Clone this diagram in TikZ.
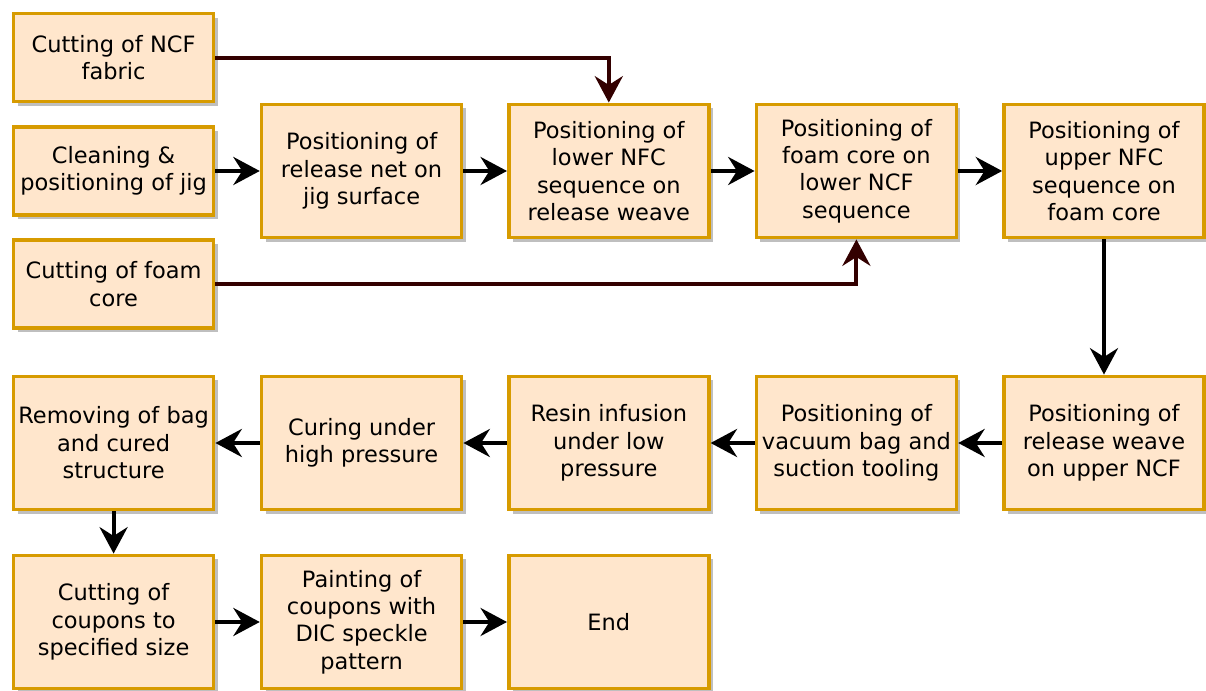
\documentclass[tikz,border=0pt]{standalone}
\usepackage{fontspec}
\setmainfont{DejaVu Sans}
\usetikzlibrary{arrows.meta,positioning,shadows}
\definecolor{stepfill}{HTML}{FFE6CC}
\definecolor{stepline}{HTML}{D79B00}
\definecolor{darkarr}{HTML}{330000}

\begin{document}
\begin{tikzpicture}[
  x=1cm,y=1cm,
  base/.style={draw=stepline, fill=stepfill, line width=2.6pt, align=center, minimum width=5cm, minimum height=3.33cm, inner sep=2pt, font=\fontsize{16}{19.5}\selectfont, drop shadow={shadow xshift=0.1cm, shadow yshift=-0.1cm, fill=black!25, opacity=1}},
  small/.style={base, minimum height=2.2cm},
  arr/.style={-{Stealth[length=0.66cm, width=0.7cm, inset=0.22cm]}, line width=2.9pt},
  arrd/.style={arr, color=darkarr}
]
\useasboundingbox (0,0) rectangle (30.15,-17.275);
\node[small] (cutncf) at (2.84,-1.44) {Cutting of NCF\\fabric};
\node[small] (clean) at (2.84,-4.275) {Cleaning \&\\positioning of jig};
\node[small] (cutfoam) at (2.84,-7.1) {Cutting of foam\\core};
\node[base] (relnet) at (9.04,-4.275) {Positioning of\\release net on\\jig surface};
\node[base] (lowseq) at (15.22,-4.275) {Positioning of\\lower NFC\\sequence on\\release weave};
\node[base] (foamcore) at (21.41,-4.275) {Positioning of\\foam core on\\lower NCF\\sequence};
\node[base] (upseq) at (27.6,-4.275) {Positioning of\\upper NFC\\sequence on\\foam core};
\node[base] (relweave) at (27.6,-11.075) {Positioning of\\release weave\\on upper NCF};
\node[base] (vacbag) at (21.41,-11.075) {Positioning of\\vacuum bag and\\suction tooling};
\node[base] (resin) at (15.22,-11.075) {Resin infusion\\under low\\pressure};
\node[base] (curing) at (9.04,-11.075) {Curing under\\high pressure};
\node[base] (removing) at (2.84,-11.075) {Removing of bag\\and cured\\structure};
\node[base] (cutcoup) at (2.84,-15.55) {Cutting of\\coupons to\\specified size};
\node[base] (painting) at (9.04,-15.55) {Painting of\\coupons with\\DIC speckle\\pattern};
\node[base] (done) at (15.22,-15.55) {End};
\foreach \a/\b in {clean/relnet,relnet/lowseq,lowseq/foamcore,foamcore/upseq,upseq/relweave,relweave/vacbag,vacbag/resin,resin/curing,curing/removing,removing/cutcoup,cutcoup/painting,painting/done}{\draw[arr] (\a) -- (\b);}
\draw[arrd] (cutncf.east) -| (lowseq.north);
\draw[arrd] (cutfoam.east) -| (foamcore.south);
\end{tikzpicture}
\end{document}
